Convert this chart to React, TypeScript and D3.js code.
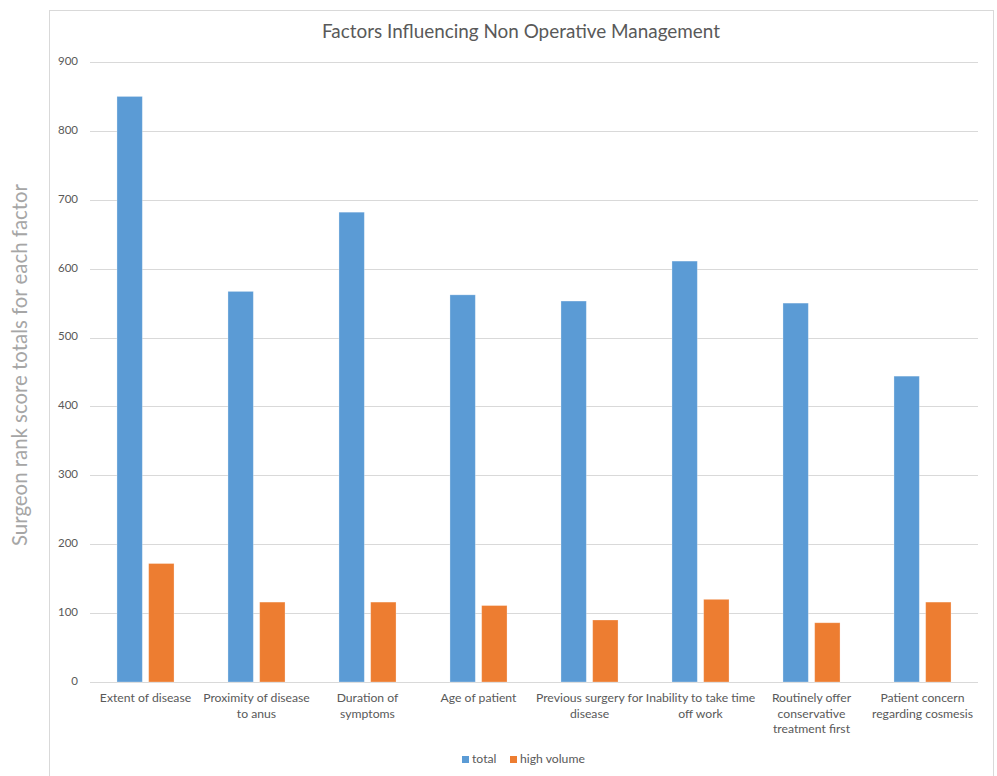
import * as d3 from "d3";

const CATEGORIES: string[][] = [
  ["Extent of disease"],
  ["Proximity of disease", "to anus"],
  ["Duration of", "symptoms"],
  ["Age of patient"],
  ["Previous surgery for", "disease"],
  ["Inability to take time", "off work"],
  ["Routinely offer", "conservative", "treatment first"],
  ["Patient concern", "regarding cosmesis"],
];

const SERIES = ["total", "high volume"];
const TOTAL = [850, 567, 682, 562, 553, 611, 550, 444];
const HIGH_VOLUME = [172, 116, 116, 111, 90, 120, 86, 116];
const Y_TICKS = [0, 100, 200, 300, 400, 500, 600, 700, 800, 900];

const COLORS = ["#5b9bd5", "#ed7d31"];
const W = 997;
const H = 776;
const FONT = "Lato, 'Open Sans', sans-serif";

export default function App() {
  const margin = { top: 62, right: 19, bottom: 94, left: 90 };
  const plotH = H - margin.top - margin.bottom;

  const idx = CATEGORIES.map((_, i) => String(i));
  const x0 = d3
    .scaleBand<string>()
    .domain(idx)
    .range([margin.left, W - margin.right])
    .paddingInner(0.486)
    .paddingOuter(0.243);
  const x1 = d3
    .scaleBand<string>()
    .domain(SERIES)
    .range([0, x0.bandwidth()])
    .paddingInner(0.2);
  const y = d3
    .scaleLinear()
    .domain([0, 900])
    .range([margin.top + plotH, margin.top]);

  const values = [TOTAL, HIGH_VOLUME];
  const step = x0.step();

  return (
    <div style={{ position: "absolute", left: 0, top: 0 }}>
      <svg width={W} height={H} style={{ display: "block", background: "#fff" }}>
        <rect x={49.5} y={10.5} width={944} height={800} fill="#fff" stroke="#d9d9d9" />

        <text
          x={521}
          y={33}
          textAnchor="middle"
          dominantBaseline="middle"
          fontFamily={FONT}
          fontSize={18.9}
          fill="#595959"
        >
          Factors Influencing Non Operative Management
        </text>

        {/* gridlines + y ticks */}
        {Y_TICKS.map((t) => (
          <g key={t}>
            <line
              x1={margin.left}
              x2={W - margin.right}
              y1={Math.round(y(t)) + 0.5}
              y2={Math.round(y(t)) + 0.5}
              stroke="#d9d9d9"
            />
            <text
              x={78}
              y={y(t)}
              textAnchor="end"
              dominantBaseline="middle"
              fontFamily={FONT}
              fontSize={11.5}
              fill="#595959"
            >
              {t}
            </text>
          </g>
        ))}

        <text
          transform={`translate(22,${(margin.top + margin.top + plotH) / 2 - 7}) rotate(-90)`}
          textAnchor="middle"
          dominantBaseline="middle"
          fontFamily={FONT}
          fontSize={20.4}
          fill="#a6a6a6"
        >
          Surgeon rank score totals for each factor
        </text>

        {/* bars */}
        {idx.map((c, i) =>
          SERIES.map((s, j) => {
            const v = values[j][i];
            return (
              <rect
                key={`${c}-${s}`}
                x={(x0(c) ?? 0) + (x1(s) ?? 0)}
                y={y(v)}
                width={x1.bandwidth()}
                height={y(0) - y(v)}
                fill={COLORS[j]}
                stroke="#ffffff"
                strokeOpacity={0.35}
                strokeWidth={0.8}
              />
            );
          }),
        )}

        {/* category labels */}
        {CATEGORIES.map((lines, i) => {
          const cx = margin.left + step * i + step / 2;
          return (
            <text
              key={i}
              x={cx}
              textAnchor="middle"
              fontFamily={FONT}
              fontSize={12.2}
              fill="#595959"
            >
              {lines.map((ln, k) => (
                <tspan key={k} x={cx} y={699 + k * 15.5} dominantBaseline="middle">
                  {ln}
                </tspan>
              ))}
            </text>
          );
        })}

        {/* legend */}
        {SERIES.map((s, j) => {
          const lx = j === 0 ? 462 : 510;
          return (
            <g key={s}>
              <rect x={lx} y={756} width={7} height={7} fill={COLORS[j]} />
              <text
                x={lx + 10}
                y={759.5}
                dominantBaseline="middle"
                fontFamily={FONT}
                fontSize={12.2}
                fill="#595959"
              >
                {s}
              </text>
            </g>
          );
        })}
      </svg>
    </div>
  );
}
